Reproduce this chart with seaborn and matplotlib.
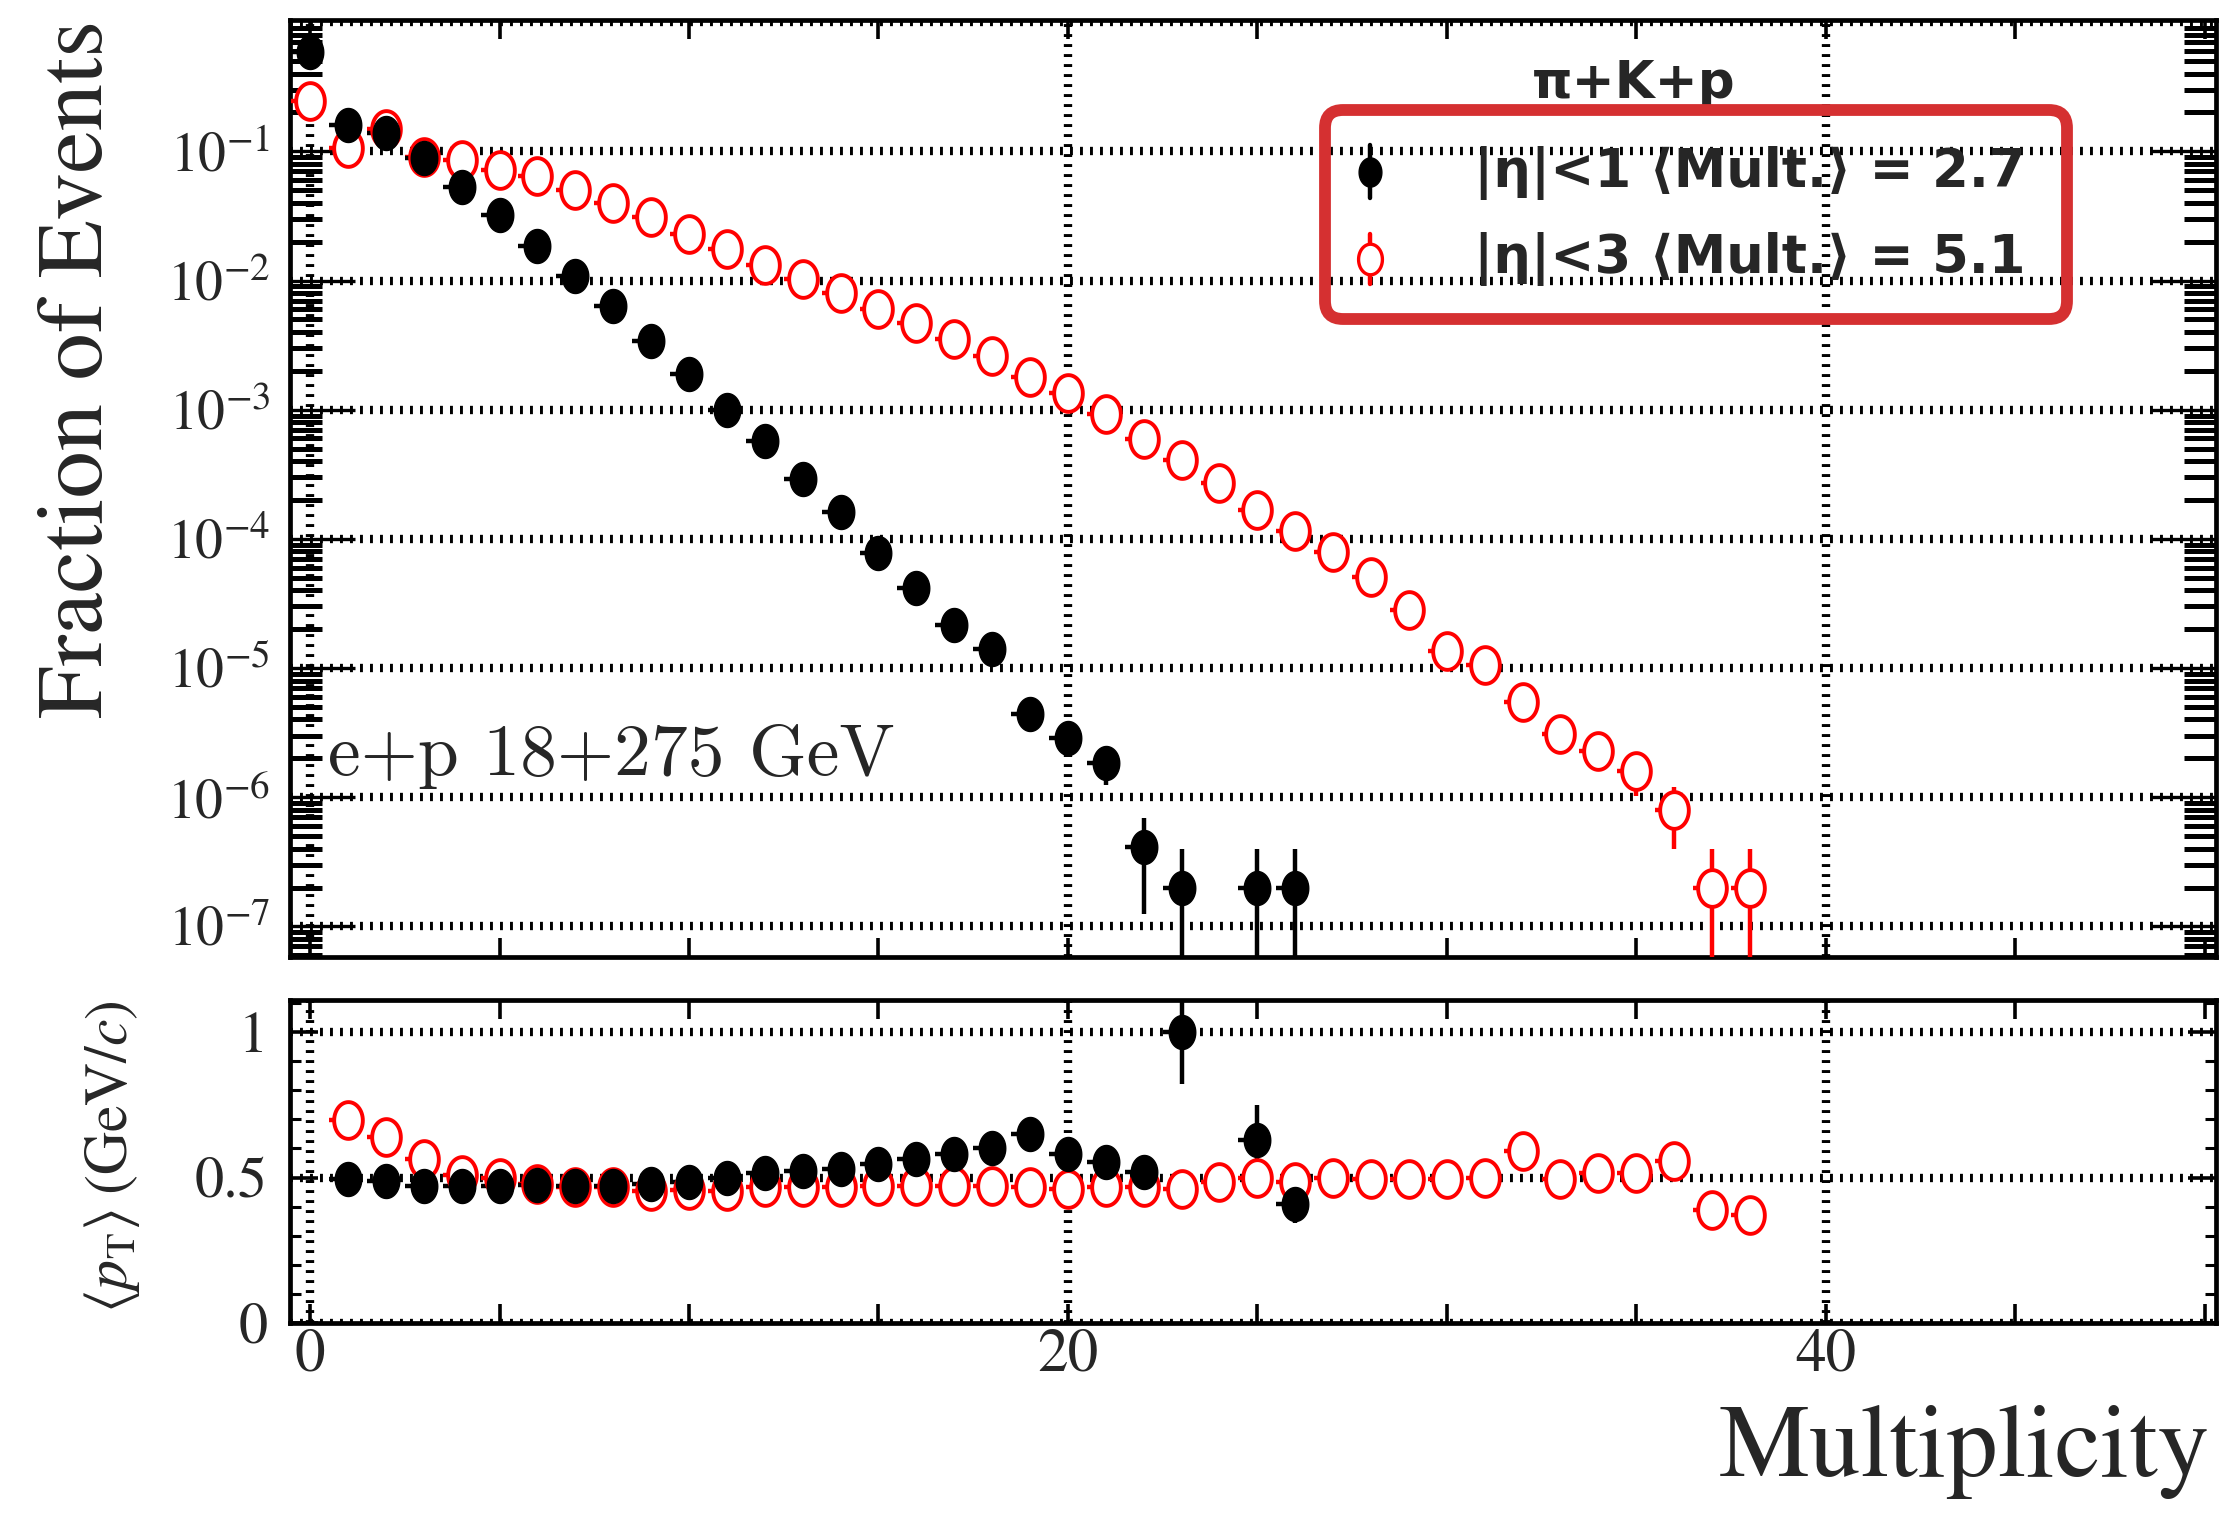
import numpy as np
import pandas as pd
import matplotlib
matplotlib.use("Agg")
import matplotlib.pyplot as plt
import seaborn as sns
from matplotlib.path import Path
from matplotlib.patches import FancyBboxPatch
from matplotlib.ticker import MultipleLocator, FixedLocator, FuncFormatter, LogLocator, NullFormatter
from matplotlib.transforms import IdentityTransform

# ---------------- data ----------------
mult_black_top = [0, 1, 2, 3, 4, 5, 6, 7, 8, 9, 10, 11, 12, 13, 14, 15, 16, 17, 18, 19, 20, 21, 22, 23, 25, 26]
frac_black = [0.59, 0.16, 0.139, 0.089, 0.053, 0.032, 0.0185, 0.0108, 0.0063, 0.0034, 0.0019, 0.001,
              0.00057, 0.00029, 0.000162, 7.8e-5, 4.2e-5, 2.15e-5, 1.4e-5, 4.4e-6, 2.9e-6, 1.85e-6,
              4.1e-7, 2.0e-7, 2.0e-7, 2.0e-7]
frac_black_err = [3e-4, 2e-4, 2e-4, 1.5e-4, 1e-4, 8e-5, 6e-5, 4.6e-5, 3.5e-5, 2.6e-5, 1.9e-5, 1.4e-5,
                  1.05e-5, 7.6e-6, 5.7e-6, 3.9e-6, 2.9e-6, 2.1e-6, 1.7e-6, 9.4e-7, 7.6e-7, 6.1e-7,
                  2.85e-7, 2.0e-7, 2.0e-7, 2.0e-7]

mult_red_top = list(range(0, 39))
frac_red = [0.247, 0.106, 0.15, 0.091, 0.086, 0.072, 0.065, 0.05, 0.04, 0.031, 0.023, 0.0177, 0.0133,
            0.0102, 0.008, 0.006, 0.0047, 0.0035, 0.0026, 0.0018, 0.00135, 0.00093, 0.00059, 0.00041,
            0.00027, 0.000167, 0.000115, 7.9e-5, 5.1e-5, 2.8e-5, 1.35e-5, 1.05e-5, 5.5e-6, 3.1e-6,
            2.3e-6, 1.6e-6, 8.0e-7, 2.0e-7, 2.0e-7]
frac_red_err = [2.2e-4, 1.5e-4, 1.7e-4, 1.3e-4, 1.3e-4, 1.2e-4, 1.1e-4, 1.0e-4, 9e-5, 7.9e-5, 6.8e-5,
                6e-5, 5.2e-5, 4.5e-5, 4e-5, 3.5e-5, 3.1e-5, 2.6e-5, 2.3e-5, 1.9e-5, 1.6e-5, 1.4e-5,
                1.1e-5, 9e-6, 7.3e-6, 5.8e-6, 4.8e-6, 4e-6, 3.2e-6, 2.4e-6, 1.6e-6, 1.45e-6, 1.05e-6,
                7.9e-7, 6.8e-7, 5.7e-7, 4.0e-7, 2.0e-7, 2.0e-7]

mult_black_pt = [1, 2, 3, 4, 5, 6, 7, 8, 9, 10, 11, 12, 13, 14, 15, 16, 17, 18, 19, 20, 21, 22, 23, 25, 26]
pt_black = [0.494, 0.489, 0.472, 0.472, 0.472, 0.475, 0.472, 0.472, 0.478, 0.483, 0.497, 0.515, 0.522,
            0.53, 0.545, 0.565, 0.58, 0.6, 0.648, 0.58, 0.552, 0.52, 1.0, 0.63, 0.41]
pt_black_err = [0.002, 0.002, 0.003, 0.003, 0.003, 0.004, 0.005, 0.006, 0.007, 0.008, 0.009, 0.01, 0.012,
                0.014, 0.016, 0.02, 0.024, 0.028, 0.035, 0.035, 0.04, 0.05, 0.18, 0.12, 0.065]

mult_red_pt = list(range(1, 39))
pt_red = [0.697, 0.64, 0.562, 0.51, 0.497, 0.478, 0.466, 0.466, 0.452, 0.458, 0.452, 0.466, 0.466,
          0.466, 0.47, 0.47, 0.47, 0.47, 0.466, 0.461, 0.466, 0.466, 0.461, 0.483, 0.5, 0.483, 0.5,
          0.494, 0.494, 0.494, 0.5, 0.592, 0.494, 0.517, 0.517, 0.558, 0.39, 0.37]
pt_red_err = [0.003, 0.003, 0.003, 0.003, 0.003, 0.003, 0.003, 0.003, 0.004, 0.004, 0.004, 0.005, 0.005,
              0.005, 0.006, 0.006, 0.007, 0.008, 0.009, 0.01, 0.011, 0.012, 0.014, 0.016, 0.018, 0.02,
              0.022, 0.025, 0.03, 0.035, 0.035, 0.04, 0.045, 0.05, 0.05, 0.05, 0.05, 0.05]

ytick_vals_top = [1e-7, 1e-6, 1e-5, 1e-4, 1e-3, 1e-2, 1e-1]
ytick_labels_top = [r"$10^{-7}$", r"$10^{-6}$", r"$10^{-5}$", r"$10^{-4}$", r"$10^{-3}$", r"$10^{-2}$", r"$10^{-1}$"]
ytick_vals_bot = [0, 0.5, 1]
ytick_labels_bot = ["0", "0.5", "1"]
xtick_label_vals = [0, 20, 40]

header_text = "π+K+p"
label_black = "|η|<1 ⟨Mult.⟩ = 2.7"
label_red = "|η|<3 ⟨Mult.⟩ = 5.1"
system_text = "e+p 18+275 GeV"

# ---------------- style ----------------
sns.set_theme(style="ticks")
plt.rcParams["font.family"] = ["STIXGeneral", "DejaVu Serif"]
plt.rcParams["mathtext.fontset"] = "stix"

W, H = 2219, 1516
fig = plt.figure(figsize=(W / 100, H / 100), dpi=100)
fig.patch.set_facecolor("white")

L, R = 290, 2216
ax1 = fig.add_axes([L / W, 1 - 957 / H, (R - L) / W, (957 - 20) / H])
ax2 = fig.add_axes([L / W, 1 - 1323 / H, (R - L) / W, (1323 - 1000) / H])

t = np.linspace(0, 2 * np.pi, 64)
ell = Path(np.column_stack([0.78 * np.cos(t), np.sin(t)]), closed=True)

RED = "#ff0000"
GRID_KW = dict(color="black", lw=6.0, ls=(0, (0.35, 0.85)), zorder=1)

df_bt = pd.DataFrame({"mult": mult_black_top, "val": frac_black, "err": frac_black_err})
df_rt = pd.DataFrame({"mult": mult_red_top, "val": frac_red, "err": frac_red_err})
df_bp = pd.DataFrame({"mult": mult_black_pt, "val": pt_black, "err": pt_black_err})
df_rp = pd.DataFrame({"mult": mult_red_pt, "val": pt_red, "err": pt_red_err})


def draw_series(ax, df, col, filled, s):
    n = len(df)
    ax.errorbar(df["mult"], df["val"], yerr=df["err"], xerr=[[0.5] * n, [0.0] * n],
                fmt="none", ecolor=col, elinewidth=3.2, capsize=0, zorder=3)
    sns.scatterplot(data=df, x="mult", y="val", ax=ax, marker=ell, s=s,
                    color=(col if filled else "white"), edgecolor=col,
                    linewidth=(1.0 if filled else 2.8), zorder=(5 if filled else 4), legend=False)


for ax in (ax1, ax2):
    ax.set_xlim(-0.53, 50.3)
    for v in xtick_label_vals:
        ax.axvline(v, **GRID_KW)

ax1.set_yscale("log", nonpositive="clip")
ax1.set_ylim(5.8e-8, 1.04)
for v in ytick_vals_top + [1.0]:
    ax1.axhline(v, **GRID_KW)
ax2.set_ylim(0, 1.11)
for v in ytick_vals_bot:
    ax2.axhline(v, **GRID_KW)

draw_series(ax1, df_rt, RED, False, 700)
draw_series(ax1, df_bt, "black", True, 600)
draw_series(ax2, df_rp, RED, False, 700)
draw_series(ax2, df_bp, "black", True, 600)

# ---------------- axes cosmetics ----------------
for ax in (ax1, ax2):
    for sp in ax.spines.values():
        sp.set_linewidth(3.4)
        sp.set_color("black")
    ax.set_facecolor("white")
    ax.xaxis.set_major_locator(MultipleLocator(5))
    ax.tick_params(axis="both", which="major", direction="in", top=True, right=True,
                   length=14, width=2.6, color="black")
    ax.tick_params(axis="both", which="minor", direction="in", top=True, right=True,
                   length=8, width=2.2, color="black")
    ax.set_xlabel("")
    ax.set_ylabel("")

ax1.yaxis.set_major_locator(FixedLocator(ytick_vals_top))
ax1.set_yticklabels(ytick_labels_top)
ax1.yaxis.set_minor_locator(LogLocator(base=10, subs=np.arange(2, 10), numticks=30))
ax1.yaxis.set_minor_formatter(NullFormatter())
ax1.tick_params(axis="y", which="major", length=47, width=2.4, labelsize=40, pad=14)
ax1.tick_params(axis="y", which="minor", length=23, width=3.6)
ax1.tick_params(axis="x", labelbottom=False)

ax2.yaxis.set_major_locator(FixedLocator(ytick_vals_bot))
ax2.set_yticklabels(ytick_labels_bot)
ax2.yaxis.set_minor_locator(MultipleLocator(0.1))
ax2.xaxis.set_major_formatter(FuncFormatter(lambda v, p: f"{int(round(v))}" if int(round(v)) in xtick_label_vals else ""))
ax2.tick_params(axis="y", which="major", length=20, labelsize=42, pad=16)
ax2.tick_params(axis="x", which="major", labelsize=44, pad=4)

ax1.set_ylabel("Fraction of Events", fontsize=68, loc="top")
ax1.yaxis.set_label_coords(-0.087, 1.0)
ax2.set_ylabel(r"$\langle p_{\mathrm{T}}\rangle\;(\mathrm{GeV}/c)$", fontsize=43, loc="top")
ax2.yaxis.set_label_coords(-0.077, 1.0)
ax2.set_xlabel("Multiplicity", fontsize=74, loc="right")
ax2.xaxis.set_label_coords((2210 - L) / (R - L), -0.255)

# system label
ax1.text(0.0197, 0.194, system_text, transform=ax1.transAxes, fontsize=53,
         family=["cmr10", "DejaVu Serif"], ha="left", va="baseline", zorder=6)

# ---------------- legend ----------------
def axfx(px):
    return (px - L) / (R - L)


def axfy(py):
    return (957 - py) / (957 - 20)


sans = ["DejaVu Sans", "STIXGeneral"]
ax1.text(axfx(1634), axfy(98), header_text, transform=ax1.transAxes, ha="center", va="baseline",
         fontsize=37, fontweight="bold", family=sans, zorder=8)
ax1.text(axfx(1474), axfy(173), label_black, transform=ax1.transAxes, ha="left", va="center",
         fontsize=38, fontweight="bold", family=sans, zorder=8)
ax1.text(axfx(1474), axfy(259), label_red, transform=ax1.transAxes, ha="left", va="center",
         fontsize=38, fontweight="bold", family=sans, zorder=8)

mx = axfx(1370)
ax1.plot([mx, mx], [axfy(145), axfy(198)], transform=ax1.transAxes, color="black", lw=3.2, zorder=8, clip_on=False)
ax1.plot([mx], [axfy(172)], transform=ax1.transAxes, marker=ell, ms=21, color="black", ls="none", zorder=9, clip_on=False)
ax1.plot([mx, mx], [axfy(234), axfy(284)], transform=ax1.transAxes, color=RED, lw=3.2, zorder=8, clip_on=False)
ax1.plot([mx], [axfy(259)], transform=ax1.transAxes, marker=ell, ms=22, mfc="white", mec=RED, mew=2.4,
         ls="none", zorder=9, clip_on=False)

box = FancyBboxPatch((1325, H - 319), 2067 - 1325, 319 - 110, boxstyle="round,pad=0,rounding_size=18",
                     transform=IdentityTransform(), fill=False, edgecolor="#d53031", linewidth=8.5, zorder=20)
fig.add_artist(box)

fig.savefig("out.png", dpi=100, facecolor="white")
